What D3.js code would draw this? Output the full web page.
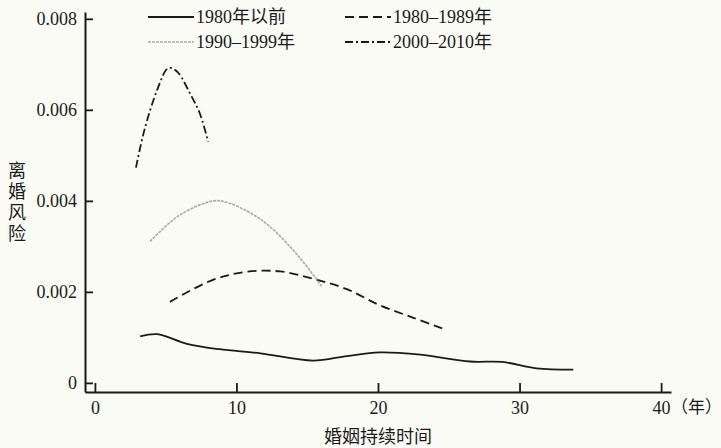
<!DOCTYPE html>
<html>
<head>
<meta charset="utf-8">
<script src="https://cdn.jsdelivr.net/npm/d3@7"></script>
<style>
  html, body { margin: 0; padding: 0; background: #fbfbf6; }
  svg { display: block; }
</style>
</head>
<body>
<div id="chart"></div>
<script>
var xTicks = [0, 10, 20, 30, 40];
var yTicks = [0, 0.002, 0.004, 0.006, 0.008];

var seriesNames = ['1980年以前', '1980–1989年', '1990–1999年', '2000–2010年'];

// marriage duration (years), divorce risk
var before1980 = [
  [3.2, 0.00102], [4.4, 0.00107], [6.5, 0.00086], [8.8, 0.00074], [11.7, 0.00065],
  [15.4, 0.00049], [17.8, 0.00059], [20.1, 0.00067], [23.0, 0.00062], [26.5, 0.00047],
  [28.8, 0.00046], [31.2, 0.00032], [33.8, 0.00029]
];
var s1980s = [
  [5.3, 0.00178], [8.3, 0.00226], [10.7, 0.00244], [13.1, 0.00245], [15.4, 0.00229],
  [17.8, 0.00206], [20.1, 0.00171], [22.5, 0.00143], [24.6, 0.00119]
];
var s1990s = [
  [3.9, 0.00311], [6.0, 0.00369], [8.4, 0.00400], [9.5, 0.00395], [11.9, 0.00355],
  [14.2, 0.00285], [16.0, 0.00213]
];
var s2000s = [
  [2.9, 0.00473], [3.5, 0.00556], [4.4, 0.00644], [5.1, 0.00690], [5.4, 0.00692],
  [5.9, 0.00681], [6.7, 0.00637], [7.4, 0.00593], [8.0, 0.00530]
];

var SERIF = '"Liberation Serif", "Times New Roman", "DejaVu Serif", "Noto Sans CJK SC", serif';
var CJK = '"Noto Sans CJK SC", sans-serif';

var W = 721, H = 448;
var svg = d3.select('#chart').append('svg').attr('width', W).attr('height', H);

var x = d3.scaleLinear().domain([-0.7, 40.7]).range([85, 671]);
var y = d3.scaleLinear().domain([-0.0002, 0.00815]).range([392, 12]);

var styles = [
  { color: '#1a1a1a', width: 1.8, dash: null },
  { color: '#1a1a1a', width: 1.8, dash: '9,5' },
  { color: '#a8a8a8', width: 1.6, dash: '3,1' },
  { color: '#1a1a1a', width: 1.8, dash: '8,3,2,3' }
];
var allSeries = [before1980, s1980s, s1990s, s2000s];

var line = d3.line()
  .x(function(d) { return x(d[0]); })
  .y(function(d) { return y(d[1]); })
  .curve(d3.curveCatmullRom.alpha(0.5));

svg.append('g').selectAll('path')
  .data(allSeries)
  .enter().append('path')
    .attr('d', line)
    .attr('fill', 'none')
    .attr('stroke', function(d, i) { return styles[i].color; })
    .attr('stroke-width', function(d, i) { return styles[i].width; })
    .attr('stroke-dasharray', function(d, i) { return styles[i].dash; });

// axes, ticks pointing inward
var xAxis = svg.append('g')
  .attr('transform', 'translate(0,392)')
  .call(d3.axisBottom(x).tickValues(xTicks).tickSizeInner(-9).tickSizeOuter(0).tickPadding(9));
var yAxis = svg.append('g')
  .attr('transform', 'translate(85,0)')
  .call(d3.axisLeft(y).tickValues(yTicks).tickSizeInner(-8).tickSizeOuter(0).tickPadding(8)
    .tickFormat(function(d) { return d === 0 ? '0' : d3.format('.3f')(d); }));

[xAxis, yAxis].forEach(function(a) {
  a.select('.domain').attr('stroke', '#1a1a1a').attr('stroke-width', 2);
  a.selectAll('.tick line').attr('stroke', '#1a1a1a').attr('stroke-width', 1.8);
  a.selectAll('.tick text').style('font-size', '18px').style('font-family', SERIF).attr('fill', '#1a1a1a');
});

svg.append('text')
  .attr('x', x(40) + 10).attr('y', 392 + 9).attr('dy', '0.71em')
  .style('font-size', '17px').style('font-family', CJK)
  .attr('fill', '#1a1a1a')
  .text('（年）');

svg.append('text')
  .attr('x', 378).attr('y', 443)
  .attr('text-anchor', 'middle')
  .style('font-size', '18px').style('font-family', CJK)
  .attr('fill', '#1a1a1a')
  .text('婚姻持续时间');

// vertical y title, one glyph per row
svg.append('text')
  .attr('x', 17).attr('y', 161)
  .style('writing-mode', 'vertical-rl')
  .style('letter-spacing', '3px')
  .style('font-size', '18px').style('font-family', CJK)
  .attr('fill', '#1a1a1a')
  .text('离婚风险');

// legend, two columns
var legendPos = [[148, 17], [345, 17], [148, 42], [345, 42]];
var lg = svg.append('g').selectAll('g')
  .data(seriesNames)
  .enter().append('g')
    .attr('transform', function(d, i) { return 'translate(' + legendPos[i][0] + ',' + legendPos[i][1] + ')'; });

lg.append('line')
  .attr('x1', 0).attr('x2', 46).attr('y1', 0).attr('y2', 0)
  .attr('stroke', function(d, i) { return styles[i].color; })
  .attr('stroke-width', function(d, i) { return styles[i].width; })
  .attr('stroke-dasharray', function(d, i) { return styles[i].dash; });

lg.append('text')
  .attr('x', 48).attr('dy', '0.35em')
  .style('font-size', '18px').style('font-family', SERIF)
  .attr('fill', '#1a1a1a')
  .text(function(d) { return d; });
</script>
</body>
</html>
